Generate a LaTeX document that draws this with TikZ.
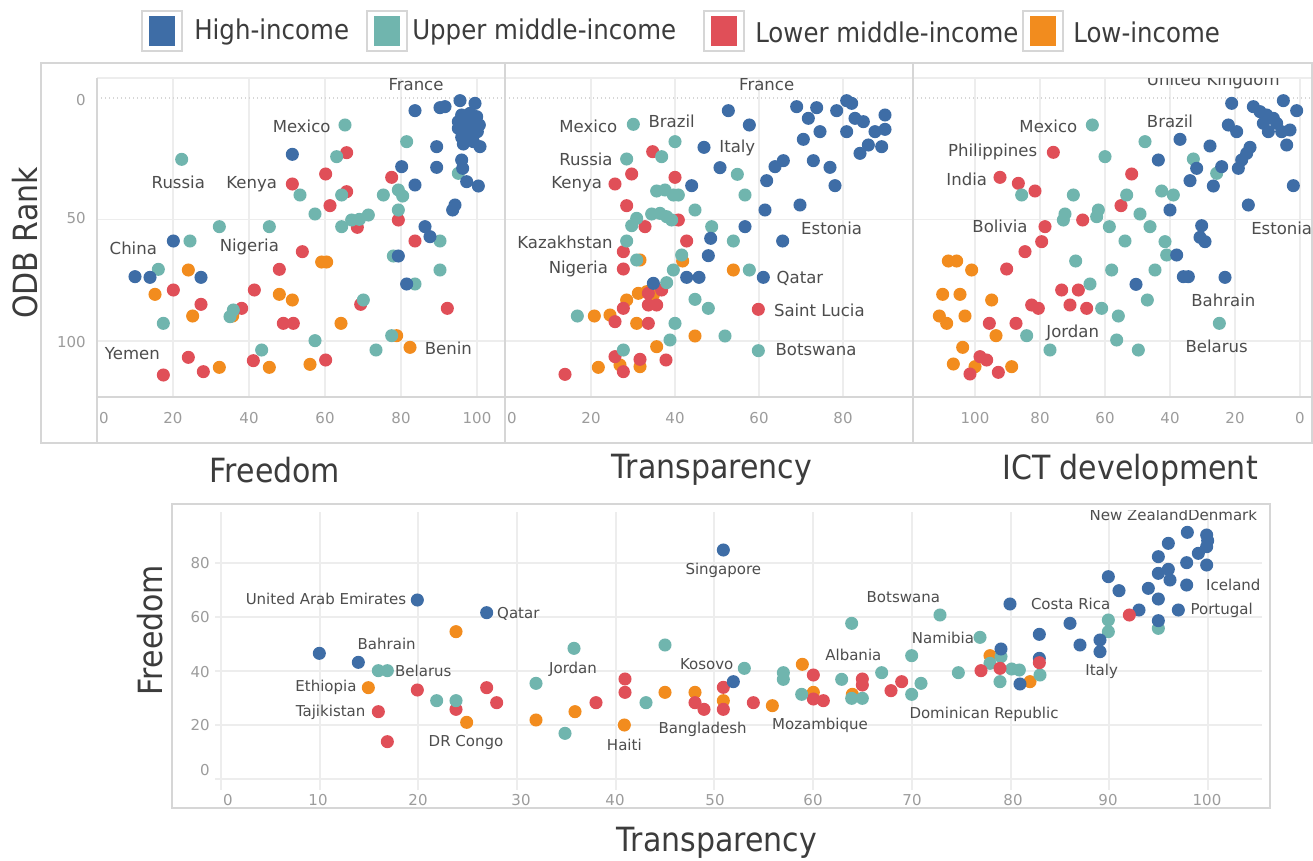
\documentclass[tikz,border=0pt]{standalone}
\usepackage{fontspec}
\setmainfont{DejaVu Sans}
\newfontfamily\ttlfont{DejaVu Sans}[FakeStretch=0.9]
\definecolor{cH}{HTML}{3E6DA6}
\definecolor{cU}{HTML}{70B5AE}
\definecolor{cL}{HTML}{E04F58}
\definecolor{cO}{HTML}{F28C1E}
\definecolor{frm}{HTML}{D6D6D6}
\definecolor{grd}{HTML}{EDEDED}
\definecolor{tck}{HTML}{9C9C9C}
\definecolor{lab}{HTML}{4D4D4D}
\definecolor{ttl}{HTML}{3C3C3C}
\newcommand{\pts}[2]{\foreach \px/\py in {#2}{\fill[#1] (\px,\py) circle[radius=4.9pt];}}
\tikzset{
  lbl/.style={font=\fontsize{12.4}{14}\selectfont, text=lab, inner sep=0pt},
  lbls/.style={font=\fontsize{11.25}{13}\selectfont, text=lab, inner sep=0pt},
  tk/.style={font=\fontsize{11.25}{13}\selectfont, text=tck, inner sep=0pt},
  axt/.style={font=\ttlfont\fontsize{25}{28}\selectfont, text=ttl, inner sep=0pt},
  leg/.style={font=\ttlfont\fontsize{20.4}{24}\selectfont, text=ttl, inner sep=0pt, anchor=west},
  legbox/.style={draw=frm, fill=white, line width=1.2pt, minimum width=30pt, minimum height=30pt, inner sep=0pt},
  legsq/.style={fill=#1, minimum width=19.5pt, minimum height=22.5pt, inner sep=0pt},
  frameline/.style={draw=frm, line width=1pt},
  gridline/.style={draw=grd, line width=0.8pt},
  zoomc/.style={x=0.25pt, y=-0.25pt},
}
\begin{document}
\begin{tikzpicture}[x=0.75pt,y=-0.75pt]
\useasboundingbox[fill=white] (0,0) rectangle (1313,860);

% ---------------- legend
\foreach \i/\cx/\tx/\col/\nm in {1/162/194/cH/High-income, 2/387/412/cU/Upper middle-income, 3/724/755/cL/Lower middle-income, 4/1043/1073/cO/Low-income}{
  \node[legbox] (lb\i) at (\cx,31) {};
  \node[legsq=\col] (ls\i) at (\cx,31) {};
  \node[leg] (lt\i) at (\tx,32) {\nm};
}

% ---------------- top panels frame and grid
\foreach \gx in {173,249,325,401,477,591,675,759,843,975,1040,1105,1170,1235,1300}
  \draw[gridline] (\gx,78) -- (\gx,397);
\draw[gridline] (97,219.5) -- (1312,219.5);
\draw[gridline] (97,341) -- (1312,341);
\draw[draw=frm, dotted, line width=1pt] (97,98) -- (1312,98);
\draw[gridline] (97,78) -- (1312,78);
\draw[frameline] (97,397) -- (1312,397);
\draw[frameline] (97,78) -- (97,443);
\draw[frameline] (505,63) -- (505,443);
\draw[frameline] (913,63) -- (913,443);
\draw[frameline] (41,63) rectangle (1312,443);

% tick labels top
\foreach \i/\gx/\t in {1/104/0, 2/173/20, 3/249/40, 4/325/60, 5/401/80, 6/477/100, 7/512/0, 8/591/20, 9/675/40, 10/759/60, 11/843/80, 12/975/100, 13/1040/80, 14/1105/60, 15/1170/40, 16/1235/20, 17/1300/0}
  \node[tk] (tx\i) at (\gx,418) {\t};
\node[tk, anchor=east] (ty1) at (86,100) {0};
\node[tk, anchor=east] (ty2) at (86,218) {50};
\node[tk, anchor=east] (ty3) at (86,342) {100};

% axis titles top
\node[axt, rotate=90] (odb) at (25,243) {ODB Rank};
\node[axt] (tfree) at (275,470) {Freedom};
\node[axt] (ttrans) at (712,470) {Transparency};
\node[axt] (tict) at (1130,470) {ICT development};

% ---------------- panel 1
\begin{scope}
\clip (97,78) rectangle (505,397);
\begin{scope}[shift={(40,60)}, zoomc]
\pts{cO}{845/606, 860/606, 445/630, 345/703, 718/703, 757/720, 458/768, 578/768, 903/790, 1070/827, 1110/862, 538/922, 688/922, 810/913}
\pts{cL}{920/278, 857/342, 757/372, 920/395, 870/437, 1055/352, 1075/480, 952/502, 1125/543, 787/575, 718/628, 400/690, 643/690, 483/733, 605/745, 962/733, 1222/745, 730/790, 760/790, 445/892, 640/902, 857/900, 370/945, 490/935}
\pts{cU}{915/195, 425/298, 1100/245, 890/290, 1255/340, 780/405, 1030/405, 1075/390, 1088/408, 905/405, 825/462, 1075/450, 905/500, 935/480, 958/478, 985/465, 538/500, 688/500, 450/543, 355/628, 1200/543, 1200/630, 1060/588, 1125/672, 970/720, 580/750, 570/770, 370/790, 825/842, 665/870, 1008/870, 1055/827}
\pts{cH}{1125/152, 1200/143, 1215/140, 1260/122, 1305/130, 1265/165, 1290/160, 1310/170, 1255/185, 1285/190, 1318/195, 1255/205, 1280/212, 1312/215, 1265/232, 1292/236, 1270/252, 1300/245, 1320/260, 1190/260, 1265/300, 1268/325, 1085/320, 1190/322, 1125/375, 1280/365, 1315/378, 1245/435, 1238/450, 1155/500, 1170/530, 1075/588, 757/283, 400/543, 285/650, 330/652, 483/652, 1100/672}
\node[lbl] (a1) at (1128,75) {France};
\node[lbl] (a2) at (785,200) {Mexico};
\node[lbl] (a3) at (415,368) {Russia};
\node[lbl] (a4) at (635,372) {Kenya};
\node[lbl] (a5) at (280,565) {China};
\node[lbl] (a6) at (628,562) {Nigeria};
\node[lbl] (a7) at (277,880) {Yemen};
\node[lbl] (a8) at (1225,865) {Benin};
\end{scope}
\end{scope}

% ---------------- panel 2
\begin{scope}
\clip (505,78) rectangle (913,397);
\begin{scope}[shift={(500,60)}, zoomc]
\pts{cO}{420/600, 548/603, 700/630, 380/720, 415/700, 440/695, 460/705, 283/768, 330/765, 410/790, 585/828, 470/860, 295/922, 360/915, 420/920}
\pts{cL}{458/275, 395/342, 525/352, 345/372, 380/437, 535/480, 435/500, 560/543, 370/575, 370/627, 485/690, 445/700, 445/735, 470/735, 370/745, 345/785, 445/790, 775/748, 345/890, 370/935, 420/898, 498/900, 195/943}
\pts{cU}{400/193, 525/245, 485/290, 380/297, 712/343, 470/393, 495/390, 520/405, 535/405, 735/405, 585/450, 455/462, 480/460, 500/470, 515/480, 410/475, 395/497, 635/500, 380/543, 700/543, 545/585, 410/600, 520/630, 748/630, 500/668, 585/718, 625/745, 232/768, 525/790, 675/828, 510/840, 775/872, 370/870}
\pts{cH}{685/152, 748/195, 612/262, 660/323, 575/377, 890/140, 925/175, 950/143, 1010/152, 1040/122, 1055/130, 1065/175, 1090/185, 1155/165, 1125/215, 1155/208, 1145/260, 1105/255, 1080/280, 1040/215, 960/215, 910/238, 940/302, 990/322, 1005/377, 850/302, 825/320, 800/362, 795/450, 900/435, 735/500, 848/543, 632/535, 625/587, 560/652, 597/652, 790/652, 460/670}
\node[lbl] (b1) at (800,75) {France};
\node[lbl] (b2) at (265,200) {Mexico};
\node[lbl] (b3) at (515,183) {Brazil};
\node[lbl] (b4) at (712,265) {Italy};
\node[lbl] (b5) at (258,297) {Russia};
\node[lbl] (b6) at (230,372) {Kenya};
\node[lbl] (b7) at (995,505) {Estonia};
\node[lbl] (b8) at (195,548) {Kazakhstan};
\node[lbl] (b9) at (235,627) {Nigeria};
\node[lbl] (b10) at (900,655) {Qatar};
\node[lbl] (b11) at (958,750) {Saint Lucia};
\node[lbl] (b12) at (948,870) {Botswana};
\end{scope}
\end{scope}

% ---------------- panel 3
\begin{scope}
\clip (913,78) rectangle (1313,397);
\begin{scope}[shift={(910,60)}, zoomc]
\pts{cO}{115/603, 140/603, 185/630, 98/703, 150/703, 245/720, 88/768, 110/790, 165/768, 258/827, 158/862, 130/912, 195/920, 305/920}
\pts{cL}{430/277, 270/352, 325/370, 375/393, 665/342, 633/437, 518/480, 405/500, 395/545, 345/575, 290/627, 455/690, 505/690, 365/735, 385/745, 480/735, 530/745, 238/790, 318/790, 210/890, 230/900, 180/942, 265/937}
\pts{cU}{547/195, 705/245, 585/290, 850/297, 920/340, 335/405, 490/405, 650/405, 755/393, 790/405, 465/462, 460/480, 565/450, 560/470, 690/462, 598/500, 720/500, 645/543, 765/545, 770/585, 497/603, 605/630, 735/630, 540/672, 712/720, 575/745, 625/768, 350/827, 620/840, 420/870, 685/870, 928/790}
\pts{cH}{1120/122, 1160/152, 965/130, 1030/140, 1050/155, 1070/165, 1090/175, 1100/190, 1060/190, 1140/210, 1115/215, 1075/215, 1130/255, 955/195, 980/215, 810/238, 900/258, 1020/262, 1010/280, 995/300, 985/325, 935/320, 745/300, 860/325, 840/362, 910/378, 1150/377, 1015/435, 780/450, 875/497, 870/532, 885/545, 800/585, 820/650, 835/650, 945/652, 678/673}
\node[lbl] (c1) at (910,62) {United Kingdom};
\node[lbl] (c2) at (415,200) {Mexico};
\node[lbl] (c3) at (780,183) {Brazil};
\node[lbl] (c4) at (248,277) {Philippines};
\node[lbl] (c5) at (170,358) {India};
\node[lbl] (c6) at (270,500) {Bolivia};
\node[lbl] (c7) at (1115,505) {Estonia};
\node[lbl] (c8) at (940,720) {Bahrain};
\node[lbl] (c9) at (488,818) {Jordan};
\node[lbl] (c10) at (920,858) {Belarus};
\end{scope}
\end{scope}

% ---------------- bottom panel
\foreach \gx in {221,320,418,517,616,714,813,912,1011,1109,1208}
  \draw[gridline] (\gx,512) -- (\gx,790);
\foreach \gy in {779,725,671,617,563}
  \draw[gridline] (215,\gy) -- (1262,\gy);
\draw[frameline] (172,504) rectangle (1270,808);

\foreach \i/\gx/\t in {1/228/0, 2/318/10, 3/418/20, 4/521/30, 5/615/40, 6/715/50, 7/813/60, 8/912/70, 9/1013/80, 10/1108/90, 11/1207/100}
  \node[tk] (bx\i) at (\gx,800) {\t};
\foreach \i/\gy/\t in {1/563/80, 2/617/60, 3/672/40, 4/725/20, 5/770/0}
  \node[tk, anchor=east] (by\i) at (210,\gy) {\t};

\node[axt, rotate=90] (bfree) at (150,630) {Freedom};
\node[axt] (btrans) at (717,843) {Transparency};

\begin{scope}
\clip (172,510) rectangle (1270,808);
\begin{scope}[shift={(170,500)}, zoomc]
\pts{cO}{858/395, 595/563, 890/667, 1098/660}
\pts{cL}{742/570, 950/563, 980/608, 858/628, 625/635, 652/725}
\pts{cU}{625/512, 652/512, 800/602, 858/602, 1098/550}
\pts{cH}{742/300, 950/338, 448/460, 565/487}
\node[lbls] (d1) at (468,298) {United Arab Emirates};
\node[lbls] (d2) at (1045,342) {Qatar};
\node[lbls] (d3) at (650,432) {Bahrain};
\node[lbls] (d4) at (760,513) {Belarus};
\node[lbls] (d5) at (468,563) {Ethiopia};
\node[lbls] (d6) at (482,637) {Tajikistan};
\node[lbls] (d7) at (888,727) {DR Congo};
\end{scope}
\begin{scope}[shift={(560,500)}, zoomc]
\pts{cO}{45/635, 193/675, 315/577, 405/577, 490/602, 637/617, 727/493, 760/577, 877/583}
\pts{cL}{195/537, 195/577, 108/608, 405/608, 432/628, 490/562, 490/628, 580/608, 760/525, 760/597, 790/602, 907/537, 907/555, 993/572, 1025/545}
\pts{cU}{42/445, 15/700, 315/435, 258/608, 553/505, 670/518, 670/538, 725/583, 875/370, 845/538, 875/595, 907/595, 965/518, 1055/467, 1055/583, 1083/550, 1140/345, 1195/518}
\pts{cH}{490/150, 520/545}
\node[lbls] (e1) at (39,507) {Jordan};
\node[lbls] (e2) at (490,210) {Singapore};
\node[lbls] (e3) at (1030,292) {Botswana};
\node[lbls] (e4) at (1149,415) {Namibia};
\node[lbls] (e5) at (880,465) {Albania};
\node[lbls] (e6) at (440,492) {Kosovo};
\node[lbls] (e7) at (428,687) {Bangladesh};
\node[lbls] (e8) at (193,735) {Haiti};
\node[lbls] (e9) at (780,677) {Mozambique};
\node[lbls] (e10) at (1272,642) {Dominican Republic};
\end{scope}
\begin{scope}[shift={(940,500)}, zoomc]
\pts{cO}{150/467, 270/545}
\pts{cU}{655/385, 505/360, 505/395, 120/412, 183/470, 150/490, 180/545, 215/507, 238/510, 300/525}
\pts{cH}{742/97, 800/105, 803/122, 800/140, 685/130, 775/160, 655/170, 740/188, 800/195, 655/220, 685/208, 690/240, 740/255, 505/230, 537/272, 625/265, 655/297, 597/330, 715/330, 655/362, 390/370, 420/435, 480/420, 480/455, 210/312, 298/403, 183/447, 240/552, 298/475}
\pts{cL}{568/345, 123/512, 180/505, 298/488}
\node[lbls] (f1) at (700,45) {New ZealandDenmark};
\node[lbls] (f2) at (392,312) {Costa Rica};
\node[lbls] (f3) at (880,255) {Iceland};
\node[lbls] (f4) at (845,330) {Portugal};
\node[lbls] (f5) at (485,515) {Italy};
\end{scope}
\end{scope}
\end{tikzpicture}
\end{document}
